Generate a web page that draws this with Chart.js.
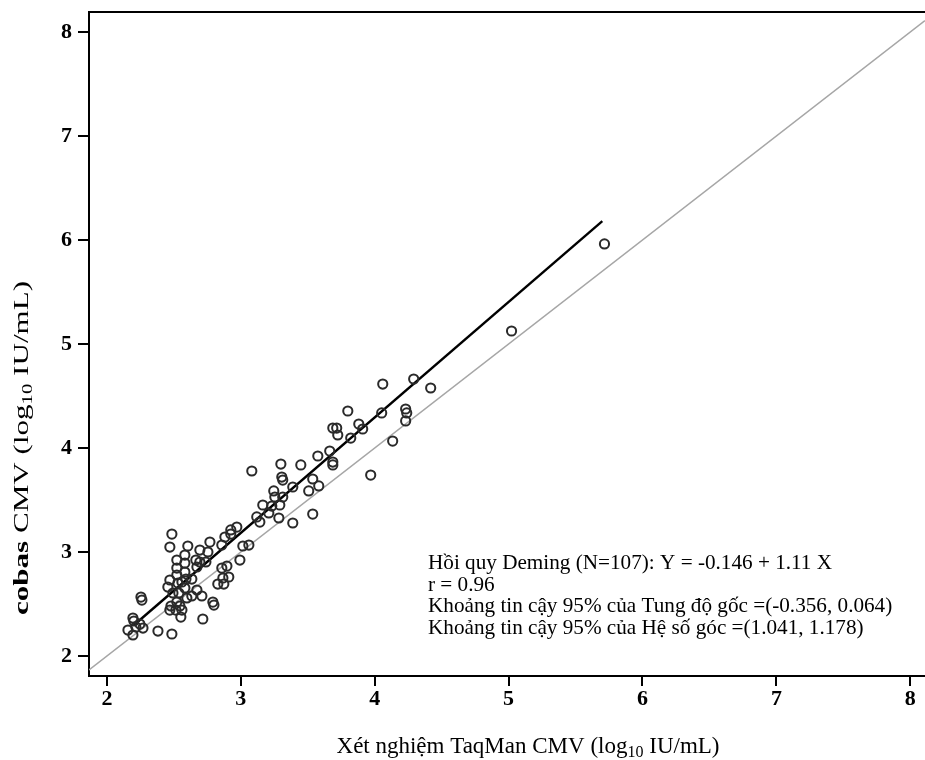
<!DOCTYPE html>
<html>
<head>
<meta charset="utf-8">
<script src="https://cdn.jsdelivr.net/npm/chart.js@4.4.1/dist/chart.umd.min.js"></script>
<style>
  html, body { margin: 0; padding: 0; background: #fff; }
  #wrap { width: 925px; height: 760px; }
</style>
</head>
<body>
<div id="wrap"><canvas id="c" width="925" height="760"></canvas></div>
<script>
// ---- Data ----
const xTicks = [2, 3, 4, 5, 6, 7, 8];
const yTicks = [2, 3, 4, 5, 6, 7, 8];

// TaqMan CMV (log10 IU/mL)
const taqman = [
  5.716, 5.022, 4.291, 4.060, 4.418, 4.231, 4.239, 4.052, 4.231, 4.134,
  3.799, 3.687, 3.716, 3.724, 3.881, 3.910, 3.821, 3.970, 3.664, 3.687,
  3.687, 3.575, 3.448, 3.299, 3.082, 3.306, 3.313, 3.537, 3.582, 3.507,
  3.388, 3.246, 3.254, 3.313, 3.291, 3.164, 3.231, 3.209, 3.119, 3.142,
  3.284, 3.537, 3.388, 2.970, 2.925, 2.925, 2.881, 2.769, 2.754, 2.858,
  3.015, 3.060, 2.694, 2.858, 2.910, 2.485, 2.470, 2.604, 2.522, 2.582,
  2.664, 2.739, 2.522, 2.582, 2.672, 2.522, 2.590, 2.470, 2.530, 2.634,
  2.866, 2.582, 2.537, 2.493, 2.672, 2.828, 2.873, 2.709, 2.791, 2.799,
  2.597, 2.522, 2.545, 2.478, 2.470, 2.515, 2.560, 2.552, 2.716, 2.254,
  2.261, 2.194, 2.201, 2.157, 2.216, 2.269, 2.194, 2.381, 2.485, 2.634,
  2.455, 2.560, 2.896, 2.246, 2.582, 2.694, 2.993
];
// cobas CMV (log10 IU/mL)
const cobas = [
  5.962, 5.125, 4.663, 4.615, 4.577, 4.375, 4.337, 4.337, 4.260, 4.067,
  4.356, 4.192, 4.192, 4.125, 4.231, 4.183, 4.096, 3.740, 3.971, 3.865,
  3.837, 3.923, 3.837, 3.846, 3.779, 3.721, 3.692, 3.702, 3.635, 3.587,
  3.625, 3.587, 3.529, 3.529, 3.452, 3.452, 3.442, 3.375, 3.337, 3.288,
  3.327, 3.365, 3.279, 3.240, 3.212, 3.173, 3.144, 3.096, 3.000, 3.067,
  3.058, 3.067, 2.904, 2.846, 2.760, 3.173, 3.048, 3.058, 2.923, 2.894,
  2.923, 2.904, 2.846, 2.808, 2.856, 2.779, 2.740, 2.731, 2.702, 2.740,
  2.750, 2.654, 2.606, 2.606, 2.635, 2.692, 2.692, 2.577, 2.519, 2.490,
  2.558, 2.519, 2.481, 2.481, 2.442, 2.442, 2.442, 2.375, 2.356, 2.567,
  2.538, 2.365, 2.337, 2.250, 2.279, 2.269, 2.202, 2.240, 2.212, 2.577,
  2.663, 2.712, 2.865, 2.308, 2.971, 3.019, 2.923
];

// Deming regression: Y = -0.146 + 1.11 X, drawn over the data range
const demingIntercept = -0.146;
const demingSlope = 1.11;
const demingXRange = [2.2, 5.7];

// Axis limits
const xMin = 1.866, xMax = 8.11;
const yMin = 1.808, yMax = 8.192;

const annotationLines = [
  'Hồi quy Deming (N=107): Y = -0.146 + 1.11 X',
  'r = 0.96',
  'Khoảng tin cậy 95% của Tung độ gốc =(-0.356, 0.064)',
  'Khoảng tin cậy 95% của Hệ số góc =(1.041, 1.178)'
];

// ---- Build datasets ----
const points = taqman.map((x, i) => ({ x: x, y: cobas[i] }));
const demingLine = demingXRange.map(x => ({ x: x, y: demingIntercept + demingSlope * x }));
const identityLine = [{ x: xMin, y: xMin }, { x: xMax, y: xMax }];

const SERIF = '"Liberation Serif", "Times New Roman", serif';

function drawRich(ctx, segs, x, y, align, size) {
  const fontFor = s => (s.bold ? 'bold ' : '') + (s.sub ? Math.round(size * 0.68) : size) + 'px ' + SERIF;
  let total = 0;
  segs.forEach(s => { ctx.font = fontFor(s); total += ctx.measureText(s.t).width; });
  let cx = align === 'center' ? x - total / 2 : x;
  segs.forEach(s => {
    ctx.font = fontFor(s);
    ctx.fillText(s.t, cx, s.sub ? y + size * 0.18 : y);
    cx += ctx.measureText(s.t).width;
  });
}

const decorPlugin = {
  id: 'decor',
  afterDraw(chart) {
    const ctx = chart.ctx;
    const a = chart.chartArea;
    ctx.save();
    // top frame line
    ctx.strokeStyle = '#000';
    ctx.lineWidth = 2;
    ctx.beginPath();
    ctx.moveTo(a.left - 1, a.top);
    ctx.lineTo(a.right, a.top);
    ctx.stroke();

    ctx.fillStyle = '#000';
    ctx.textBaseline = 'alphabetic';
    ctx.textAlign = 'left';
    // x axis title
    drawRich(ctx, [
      { t: 'Xét nghiệm TaqMan CMV (log' },
      { t: '10', sub: true },
      { t: ' IU/mL)' }
    ], 528, 753, 'center', 23);

    // y axis title (rotated, elongated along the text as in the reference)
    ctx.save();
    ctx.translate(28, 448);
    ctx.rotate(-Math.PI / 2);
    ctx.scale(1.48, 1);
    drawRich(ctx, [
      { t: 'cobas', bold: true },
      { t: ' CMV (log' },
      { t: '10', sub: true },
      { t: ' IU/mL)' }
    ], 0, 0, 'center', 21);
    ctx.restore();

    // annotation
    ctx.font = '21.2px ' + SERIF;
    annotationLines.forEach((line, i) => {
      ctx.fillText(line, 428, 569 + i * 21.7);
    });
    ctx.restore();
  }
};

const tickFont = { family: SERIF, size: 22, weight: 'bold' };

new Chart(document.getElementById('c'), {
  type: 'scatter',
  data: {
    datasets: [
      {
        label: 'identity',
        data: identityLine,
        showLine: true,
        borderColor: '#a6a6a6',
        borderWidth: 1.6,
        pointRadius: 0,
        order: 3
      },
      {
        label: 'Deming',
        data: demingLine,
        showLine: true,
        borderColor: '#000',
        borderWidth: 2.4,
        pointRadius: 0,
        order: 2
      },
      {
        label: 'samples',
        data: points,
        pointStyle: 'circle',
        pointRadius: 4.6,
        borderColor: '#2a2a2a',
        borderWidth: 2,
        backgroundColor: 'rgba(0,0,0,0)',
        order: 1
      }
    ]
  },
  options: {
    responsive: false,
    animation: false,
    layout: { autoPadding: false, padding: { top: 12, right: 0, left: 0, bottom: 0 } },
    plugins: {
      legend: { display: false },
      tooltip: { enabled: false }
    },
    scales: {
      x: {
        type: 'linear',
        min: xMin,
        max: xMax,
        afterBuildTicks: s => { s.ticks = xTicks.map(v => ({ value: v })); },
        afterFit: s => { s.height = 84; s.paddingLeft = 0; s.paddingRight = 0; },
        ticks: { font: tickFont, color: '#000', padding: 0, maxRotation: 0 },
        grid: { drawOnChartArea: false, drawTicks: true, tickLength: 10, color: '#000', lineWidth: 2 },
        border: { display: true, color: '#000', width: 2 }
      },
      y: {
        type: 'linear',
        min: yMin,
        max: yMax,
        afterBuildTicks: s => { s.ticks = yTicks.map(v => ({ value: v })); },
        afterFit: s => { s.width = 89; s.paddingTop = 0; s.paddingBottom = 0; },
        ticks: { font: tickFont, color: '#000', padding: 6 },
        grid: { drawOnChartArea: false, drawTicks: true, tickLength: 11, color: '#000', lineWidth: 2 },
        border: { display: true, color: '#000', width: 2 }
      }
    }
  },
  plugins: [decorPlugin]
});
</script>
</body>
</html>
